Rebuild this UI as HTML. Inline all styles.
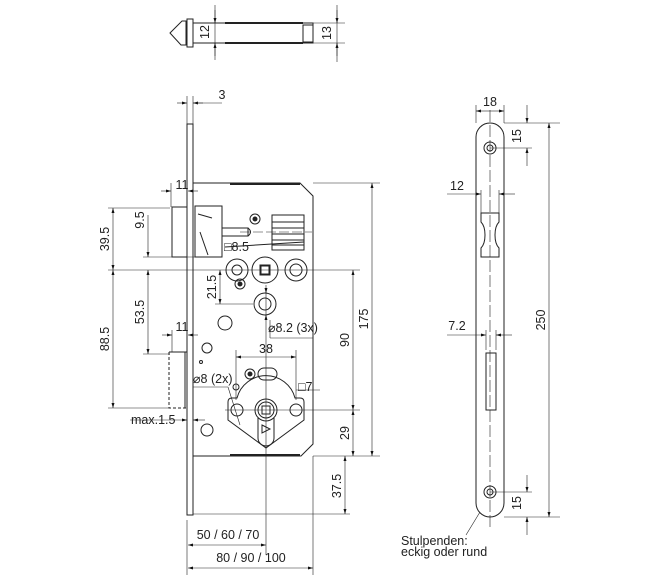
<!DOCTYPE html>
<html><head><meta charset="utf-8"><style>
html,body{margin:0;padding:0;background:#fff}
svg{display:block}
text{font-family:"Liberation Sans",Arial,sans-serif;font-size:12.5px;fill:#222}
</style></head><body>
<svg width="650" height="580" viewBox="0 0 650 580" xmlns="http://www.w3.org/2000/svg">
<defs>
<marker id="a" viewBox="0 0 10 6" refX="10" refY="3" markerWidth="10" markerHeight="5" orient="auto-start-reverse"><path d="M0,0L10,3L0,6z" fill="#111"/></marker>
</defs>
<g stroke="#222" stroke-width="1" fill="none">
<!-- TOP VIEW -->
<path d="M170,33 L182,21 L186,21 L186,45 L181,45 Z"/>
<rect x="187" y="19" width="6" height="28"/>
<rect x="193" y="23" width="120" height="20"/>
<line x1="225" y1="23" x2="303" y2="23" stroke-width="2"/>
<line x1="225" y1="43" x2="303" y2="43" stroke-width="2"/>
<rect x="303" y="25" width="10" height="17"/>
<g stroke-width="0.6">
<line x1="215" y1="5" x2="215" y2="60"/><line x1="193" y1="23" x2="220" y2="23"/><line x1="193" y1="43" x2="220" y2="43"/>
<line x1="337" y1="5" x2="337" y2="62"/><line x1="313" y1="23" x2="345" y2="23"/><line x1="313" y1="43" x2="345" y2="43"/>
</g>
<line x1="215" y1="10" x2="215" y2="23" marker-end="url(#a)" stroke-width="0.6"/>
<line x1="215" y1="56" x2="215" y2="43" marker-end="url(#a)" stroke-width="0.6"/>
<line x1="337" y1="10" x2="337" y2="23" marker-end="url(#a)" stroke-width="0.6"/>
<line x1="337" y1="56" x2="337" y2="43" marker-end="url(#a)" stroke-width="0.6"/>

<!-- MAIN VIEW faceplate -->
<rect x="187" y="124" width="6" height="391"/>
<!-- case -->
<path d="M193,183 L300,183 L313,196 L313,444 L301,456 L193,456"/>
<line x1="230" y1="184" x2="300" y2="184" stroke-width="2"/>
<line x1="230" y1="455" x2="300" y2="455" stroke-width="2"/>
<!-- latch -->
<rect x="172" y="207" width="15" height="50"/>
<rect x="195" y="206" width="27" height="51"/>
<path d="M198,214 L212,218 M200,232 L208,255"/>
<rect x="222" y="228" width="26" height="8"/>
<path d="M248,228 Q253,232 248,236"/>
<circle cx="255" cy="219" r="5"/><circle cx="255" cy="219" r="2" fill="#222"/>
<rect x="272" y="215" width="32" height="35"/>
<path d="M272,222H304M272,228H304M272,234H304M272,240H304M272,245H304"/>
<path d="M225,247 L304,242"/>
<!-- followers -->
<circle cx="237" cy="270" r="11"/><circle cx="237" cy="270" r="5"/>
<circle cx="265" cy="270" r="13"/><rect x="260.5" y="265.5" width="9" height="9" stroke-width="2"/>
<circle cx="296" cy="270" r="11"/><circle cx="296" cy="270" r="6"/>
<circle cx="240" cy="284" r="5"/><circle cx="240" cy="284" r="2" fill="#222"/>
<circle cx="265" cy="304" r="11"/><circle cx="265" cy="304" r="6"/>
<circle cx="225" cy="323" r="7"/>
<circle cx="207" cy="348" r="5"/>
<circle cx="201" cy="362" r="1.5"/>
<!-- bolt -->
<path d="M169,352 L169,408 L187,408" stroke-dasharray="3,2"/>
<path d="M169,352 L187,352"/>
<line x1="185" y1="352" x2="185" y2="408"/>
<!-- cylinder plate -->
<path d="M237,398 A30,30 0 0 1 295,398 L300,398 Q304,398 304,402 L304,420 L266,448 L228,420 L228,402 Q228,398 232,398 Z"/>
<circle cx="237" cy="410" r="6"/><circle cx="296" cy="410" r="6"/>
<circle cx="266" cy="410" r="11"/><circle cx="266" cy="410" r="8"/>
<rect x="262" y="406" width="8" height="8"/>
<path d="M258,418 L258,438 A8,8 0 0 0 274,438 L274,418"/>
<path d="M262,425 L270,429 L262,433 Z"/>
<circle cx="236" cy="387" r="3"/>
<circle cx="250" cy="374" r="5"/><circle cx="250" cy="374" r="2" fill="#222"/>
<rect x="258" y="368" width="19" height="12" rx="6"/>
<circle cx="207" cy="430" r="6"/>
<!-- centerlines -->
<g stroke-width="0.6">
<line x1="108" y1="270" x2="360" y2="270"/>
<line x1="240" y1="232" x2="312" y2="232" stroke-dasharray="10,3"/>
<line x1="266" y1="285" x2="266" y2="555"/>
<line x1="225" y1="410" x2="360" y2="410"/>
<line x1="108" y1="208" x2="170" y2="208"/>
<line x1="143" y1="257" x2="195" y2="257"/>
<line x1="108" y1="408" x2="170" y2="408"/>
<line x1="143" y1="354" x2="170" y2="354"/>
<line x1="215" y1="304" x2="253" y2="304"/>
<line x1="313" y1="183" x2="380" y2="183"/>
<line x1="313" y1="456" x2="380" y2="456"/>
<line x1="193" y1="514" x2="350" y2="514"/>
<line x1="187" y1="96" x2="187" y2="124"/><line x1="193" y1="96" x2="193" y2="124"/>
<line x1="171" y1="183" x2="171" y2="207"/>
<line x1="172" y1="330" x2="172" y2="352"/>
<line x1="187" y1="520" x2="187" y2="575"/>
<line x1="313" y1="456" x2="313" y2="575"/>
<line x1="236" y1="350" x2="236" y2="400"/><line x1="296" y1="350" x2="296" y2="400"/>
<line x1="270" y1="320" x2="270" y2="338"/><line x1="270" y1="338" x2="313" y2="338"/>
<line x1="193" y1="387" x2="228" y2="387"/><line x1="228" y1="387" x2="240" y2="425"/>
<line x1="296" y1="390" x2="320" y2="390"/>
</g>
<g stroke-width="0.6">
<line x1="177" y1="103" x2="187" y2="103" marker-end="url(#a)"/><line x1="203" y1="103" x2="193" y2="103" marker-end="url(#a)"/><line x1="193" y1="103" x2="222" y2="103"/>
<line x1="161" y1="191" x2="171" y2="191" marker-end="url(#a)"/><line x1="198" y1="191" x2="188" y2="191" marker-end="url(#a)"/>
<line x1="162" y1="335" x2="172" y2="335" marker-end="url(#a)"/><line x1="198" y1="335" x2="188" y2="335" marker-end="url(#a)"/>
<line x1="113" y1="239" x2="113" y2="208" marker-end="url(#a)"/><line x1="113" y1="239" x2="113" y2="270" marker-end="url(#a)"/>
<line x1="113" y1="339" x2="113" y2="270" marker-end="url(#a)"/><line x1="113" y1="339" x2="113" y2="408" marker-end="url(#a)"/>
<line x1="148" y1="215" x2="148" y2="257" marker-end="url(#a)"/>
<line x1="148" y1="312" x2="148" y2="270" marker-end="url(#a)"/><line x1="148" y1="312" x2="148" y2="354" marker-end="url(#a)"/>
<line x1="220" y1="287" x2="220" y2="270" marker-end="url(#a)"/><line x1="220" y1="287" x2="220" y2="304" marker-end="url(#a)"/>
<line x1="266" y1="357" x2="236" y2="357" marker-end="url(#a)"/><line x1="266" y1="357" x2="296" y2="357" marker-end="url(#a)"/>
<line x1="266" y1="290" x2="266" y2="293" marker-end="url(#a)"/><line x1="266" y1="320" x2="266" y2="315" marker-end="url(#a)"/>
<line x1="353" y1="340" x2="353" y2="270" marker-end="url(#a)"/><line x1="353" y1="340" x2="353" y2="410" marker-end="url(#a)"/>
<line x1="353" y1="433" x2="353" y2="410" marker-end="url(#a)"/><line x1="353" y1="433" x2="353" y2="456" marker-end="url(#a)"/>
<line x1="372" y1="320" x2="372" y2="183" marker-end="url(#a)"/><line x1="372" y1="320" x2="372" y2="456" marker-end="url(#a)"/>
<line x1="345" y1="485" x2="345" y2="456" marker-end="url(#a)"/><line x1="345" y1="485" x2="345" y2="514" marker-end="url(#a)"/>
<line x1="227" y1="545" x2="188" y2="545" marker-end="url(#a)"/><line x1="227" y1="545" x2="266" y2="545" marker-end="url(#a)"/>
<line x1="250" y1="568" x2="188" y2="568" marker-end="url(#a)"/><line x1="250" y1="568" x2="313" y2="568" marker-end="url(#a)"/>
<line x1="130" y1="420" x2="187" y2="420" marker-end="url(#a)"/><line x1="205" y1="420" x2="193" y2="420" marker-end="url(#a)"/>
</g>

<!-- RIGHT VIEW -->
<path d="M476,137 A14,14 0 0 1 504,137 L504,503 A14,14 0 0 1 476,503 Z"/>
<circle cx="490" cy="148" r="6"/><circle cx="490" cy="148" r="3"/>
<circle cx="490" cy="492" r="6"/><circle cx="490" cy="492" r="3"/>
<path d="M481,213 L499,213 L499,222 Q495,226 495,235 Q495,244 499,248 L499,257 L481,257 L481,248 Q485,244 485,235 Q485,226 481,222 Z"/>
<rect x="486" y="353" width="10" height="57"/>
<g stroke-width="0.6">
<line x1="490" y1="110" x2="490" y2="530" stroke-dasharray="12,3"/>
<line x1="476" y1="105" x2="476" y2="123"/><line x1="504" y1="105" x2="504" y2="123"/>
<line x1="504" y1="123" x2="560" y2="123"/><line x1="490" y1="148" x2="532" y2="148"/>
<line x1="504" y1="517" x2="560" y2="517"/><line x1="490" y1="492" x2="532" y2="492"/>
<line x1="481" y1="190" x2="481" y2="213"/><line x1="499" y1="190" x2="499" y2="213"/>
<line x1="486" y1="330" x2="486" y2="350"/><line x1="496" y1="330" x2="496" y2="350"/>
<line x1="490" y1="111" x2="476" y2="111" marker-end="url(#a)"/><line x1="490" y1="111" x2="504" y2="111" marker-end="url(#a)"/>
<line x1="527" y1="105" x2="527" y2="123" marker-end="url(#a)"/><line x1="527" y1="166" x2="527" y2="148" marker-end="url(#a)"/>
<line x1="527" y1="475" x2="527" y2="492" marker-end="url(#a)"/><line x1="527" y1="535" x2="527" y2="517" marker-end="url(#a)"/>
<line x1="549" y1="320" x2="549" y2="123" marker-end="url(#a)"/><line x1="549" y1="320" x2="549" y2="517" marker-end="url(#a)"/>
<line x1="447" y1="194" x2="481" y2="194" marker-end="url(#a)"/><line x1="515" y1="194" x2="499" y2="194" marker-end="url(#a)"/>
<line x1="447" y1="335" x2="486" y2="335" marker-end="url(#a)"/><line x1="512" y1="335" x2="496" y2="335" marker-end="url(#a)"/>
<line x1="466" y1="535" x2="480" y2="512"/>
</g>
</g>
<!-- text -->
<text x="222" y="99" text-anchor="middle">3</text>
<text x="182" y="189" text-anchor="middle">11</text>
<text x="182" y="331" text-anchor="middle">11</text>
<text x="266" y="353" text-anchor="middle">38</text>
<text x="224" y="251">□8.5</text>
<text x="268" y="332">⌀8.2 (3x)</text>
<text x="193" y="383">⌀8 (2x)</text>
<text x="298" y="391">□7</text>
<text x="131" y="424">max.1.5</text>
<text x="228" y="539" text-anchor="middle">50 / 60 / 70</text>
<text x="251" y="562" text-anchor="middle">80 / 90 / 100</text>
<text transform="translate(209,32) rotate(-90)" text-anchor="middle">12</text>
<text transform="translate(331,33) rotate(-90)" text-anchor="middle">13</text>
<text transform="translate(109,239) rotate(-90)" text-anchor="middle">39.5</text>
<text transform="translate(109,339) rotate(-90)" text-anchor="middle">88.5</text>
<text transform="translate(144,220) rotate(-90)" text-anchor="middle">9.5</text>
<text transform="translate(144,312) rotate(-90)" text-anchor="middle">53.5</text>
<text transform="translate(216,287) rotate(-90)" text-anchor="middle">21.5</text>
<text transform="translate(349,340) rotate(-90)" text-anchor="middle">90</text>
<text transform="translate(349,433) rotate(-90)" text-anchor="middle">29</text>
<text transform="translate(368,319) rotate(-90)" text-anchor="middle">175</text>
<text transform="translate(341,486) rotate(-90)" text-anchor="middle">37.5</text>
<text x="490" y="106" text-anchor="middle">18</text>
<text x="457" y="190" text-anchor="middle">12</text>
<text x="457" y="330" text-anchor="middle">7.2</text>
<text transform="translate(521,136) rotate(-90)" text-anchor="middle">15</text>
<text transform="translate(521,503) rotate(-90)" text-anchor="middle">15</text>
<text transform="translate(545,320) rotate(-90)" text-anchor="middle">250</text>
<text x="401" y="545" font-size="11">Stulpenden:</text>
<text x="401" y="556" font-size="11">eckig oder rund</text>
</svg>
</body></html>
